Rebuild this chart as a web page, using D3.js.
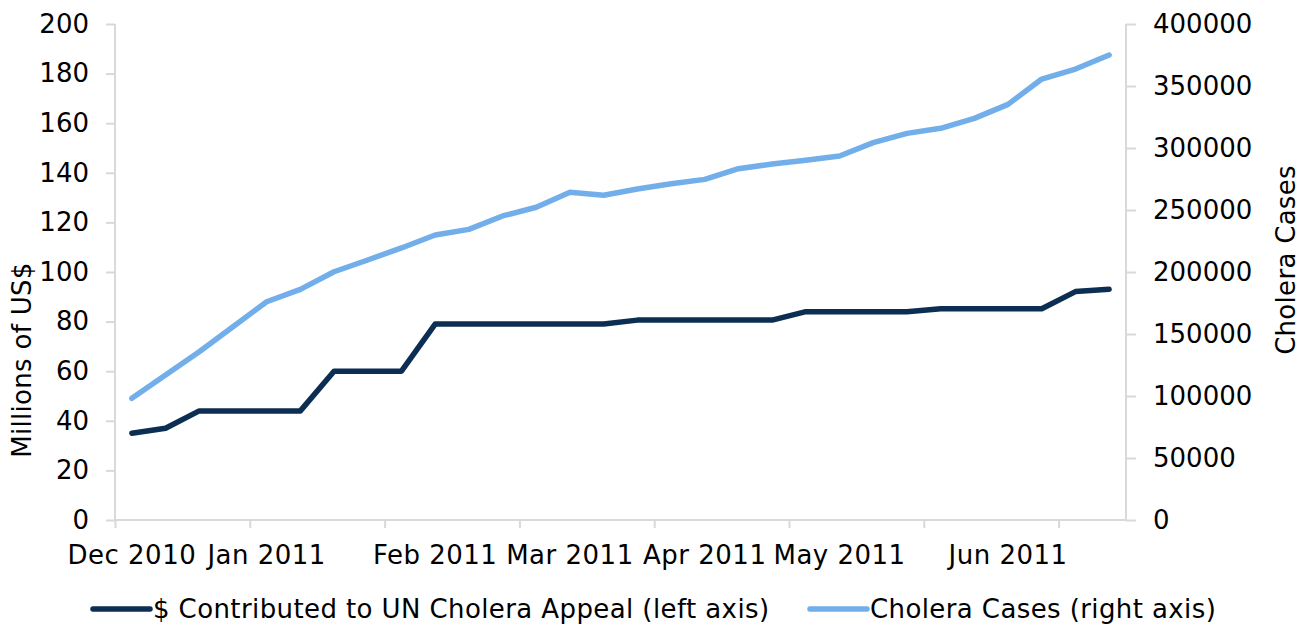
<!DOCTYPE html>
<html><head><meta charset="utf-8">
<script src="https://cdn.jsdelivr.net/npm/d3@7"></script>
<style>
body{margin:0;background:#fff;}
text{font-family:"DejaVu Sans",Verdana,sans-serif;fill:#000;}
</style></head>
<body><svg id="c" width="1307" height="626"></svg>
<script>
// Weekly observations (30 weeks), labels shown at first week of each month
const categoryLabels = ["Dec 2010","","","","Jan 2011","","","","","Feb 2011","","","","Mar 2011","","","","Apr 2011","","","","May 2011","","","","","Jun 2011","","",""];
const contributed = [35,37,44,44,44,44,60,60,60,79,79,79,79,79,79,80.6,80.6,80.6,80.6,80.6,84,84,84,84,85.2,85.2,85.2,85.2,92.1,93];
const choleraCases = [98100,116900,135700,155900,176000,186000,200200,209700,219400,229800,234400,245200,252200,264300,261900,266900,271200,274700,283300,287100,290100,293500,304300,311800,315900,323900,335200,355600,363700,375000];
const leftTicks = [0,20,40,60,80,100,120,140,160,180,200];
const rightTicks = [0,50000,100000,150000,200000,250000,300000,350000,400000];
const seriesNames = ["$ Contributed to UN Cholera Appeal (left axis)","Cholera Cases (right axis)"];
const colors = ["#0c2e52","#72afea"];

const svg = d3.select("#c");
const L = 115, R = 1126, T = 24, B = 520;
const n = categoryLabels.length;
const xb = d3.scaleBand().domain(d3.range(n)).range([L,R]).paddingInner(0).paddingOuter(0);
const xl = d3.scaleLinear().domain([0,n]).range([L,R]);
const yL = d3.scaleLinear().domain([0,200]).range([B,T]);
const yR = d3.scaleLinear().domain([0,400000]).range([B,T]);
const axisCol = "#d9d9d9";

// left axis
const gl = svg.append("g").attr("transform",`translate(${L},0)`)
  .call(d3.axisLeft(yL).tickValues(leftTicks).tickSize(9).tickPadding(17).tickFormat(d3.format("d")));
// right axis
const gr = svg.append("g").attr("transform",`translate(${R},0)`)
  .call(d3.axisRight(yR).tickValues(rightTicks).tickSize(10).tickPadding(17).tickFormat(d3.format("d")));
// bottom axis (tick marks every 4 weeks)
const gb = svg.append("g").attr("transform",`translate(0,${B})`)
  .call(d3.axisBottom(xl).tickValues(d3.range(0,n,4)).tickSize(8).tickFormat(""));
[gl,gr,gb].forEach(g=>{
  g.select(".domain").attr("stroke",axisCol).attr("stroke-width",2);
  g.selectAll(".tick line").attr("stroke",axisCol).attr("stroke-width",2);
  g.selectAll(".tick text").attr("font-size",26).attr("fill","#000").style("font-family",'"DejaVu Sans",Verdana,sans-serif');
});
gb.select(".domain").attr("d",`M${L},0H${R}`);
gl.select(".domain").attr("d",`M0,${T}V${B}`);
gr.select(".domain").attr("d",`M0,${T}V${B}`);

// category labels
svg.append("g").selectAll("text").data(categoryLabels.map((t,i)=>({t,i})).filter(d=>d.t))
  .join("text").attr("x",d=>xb(d.i)+xb.bandwidth()/2).attr("y",564)
  .attr("text-anchor","middle").attr("font-size",26).attr("letter-spacing",0.5).text(d=>d.t);

// lines
const lineL = d3.line().x((d,i)=>xb(i)+xb.bandwidth()/2).y(d=>yL(d));
const lineR = d3.line().x((d,i)=>xb(i)+xb.bandwidth()/2).y(d=>yR(d));
svg.append("path").datum(choleraCases).attr("d",lineR).attr("fill","none")
  .attr("stroke",colors[1]).attr("stroke-width",5.5).attr("stroke-linejoin","round").attr("stroke-linecap","round");
svg.append("path").datum(contributed).attr("d",lineL).attr("fill","none")
  .attr("stroke",colors[0]).attr("stroke-width",5.5).attr("stroke-linejoin","round").attr("stroke-linecap","round");

// axis titles
svg.append("text").attr("transform","translate(31,360) rotate(-90)").attr("text-anchor","middle")
  .attr("font-size",26).attr("letter-spacing",0.3).text("Millions of US$");
svg.append("text").attr("transform","translate(1295,260) rotate(-90)").attr("text-anchor","middle")
  .attr("font-size",26).attr("letter-spacing",0.3).text("Cholera Cases");

// legend
const legX = [93,810];
const lg = svg.append("g");
seriesNames.forEach((s,i)=>{
  lg.append("line").attr("x1",legX[i]).attr("x2",legX[i]+57).attr("y1",609).attr("y2",609)
    .attr("stroke",colors[i]).attr("stroke-width",5.5).attr("stroke-linecap","round");
  lg.append("text").attr("x",legX[i]+60).attr("y",618).attr("font-size",26).attr("letter-spacing",0.4).text(s);
});
</script></body></html>
